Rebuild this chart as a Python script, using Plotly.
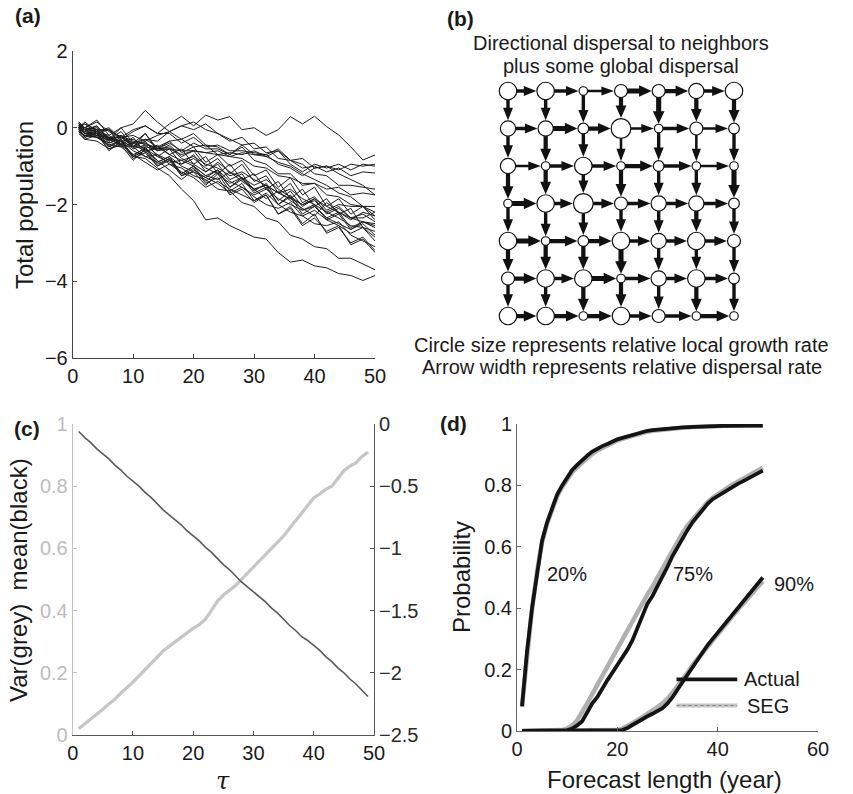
import plotly.graph_objects as go

W, H = 853, 794
FONT = "Liberation Sans, Arial, Helvetica, sans-serif"

# ---------------- Panel (a): total population trajectories ----------------
A_X = [1, 2, 4, 6, 8, 10, 12, 14, 16, 18, 20, 22, 24, 26, 28, 30, 32, 34, 36, 38, 40, 42, 44, 46, 48, 50]
A_LINES = [
    [0.0, 0.15, -0.1, 0.0, -0.3, -0.1, 0.05, -0.15, 0.1, 0.3, 0.05, 0.33, 0.2, 0.29, -0.05, 0.0, -0.2, -0.05, 0.29, 0.1, 0.3, 0.03, -0.19, -0.5, -0.84, -0.71],
    [0.1, 0.0, -0.05, -0.3, 0.0, 0.1, 0.45, 0.15, -0.1, -0.3, -0.15, -0.45, -0.5, -0.7, -0.45, -0.7, -0.75, -0.6, -0.95, -1.15, -0.95, -1.05, -0.95, -1.1, -0.95, -1.0],
    [0.0, -0.15, -0.1, -0.4, -0.25, -0.5, -0.3, -0.35, -0.1, 0.05, 0.15, -0.05, -0.15, -0.35, -0.25, -0.55, -0.5, -0.8, -0.85, -1.05, -1.0, -1.15, -1.05, -1.25, -1.15, -1.18],
    [-0.1, -0.2, -0.25, -0.45, -0.5, -0.75, -0.8, -1.05, -1.25, -1.6, -1.9, -2.4, -2.35, -2.55, -2.7, -2.85, -2.9, -3.25, -3.5, -3.45, -3.6, -3.65, -3.8, -3.85, -3.98, -3.85],
    [0.0, -0.05, -0.25, -0.3, -0.45, -0.5, -0.75, -0.7, -0.95, -1.05, -1.25, -1.35, -1.6, -1.65, -1.95, -2.05, -2.35, -2.45, -2.8, -2.9, -3.1, -3.15, -3.4, -3.4, -3.55, -3.7],
    [0.1, -0.05, -0.2, -0.25, -0.5, -0.4, -0.55, -0.75, -0.9, -0.85, -1.0, -1.25, -1.35, -1.15, -1.4, -1.6, -1.85, -1.65, -1.9, -2.1, -2.3, -1.95, -2.2, -2.35, -2.35, -2.2],
    [-0.1, -0.3, -0.2, -0.55, -0.45, -0.85, -0.55, -0.95, -0.8, -1.2, -1.0, -1.25, -1.1, -1.55, -1.35, -1.6, -1.5, -2.0, -1.75, -2.15, -2.0, -2.4, -2.25, -2.65, -2.45, -2.5],
    [0.0, -0.25, -0.1, -0.2, -0.45, -0.7, -0.55, -0.85, -1.1, -1.35, -1.1, -1.3, -1.45, -1.7, -1.55, -1.8, -2.0, -2.1, -1.95, -2.3, -2.5, -2.55, -2.45, -2.8, -2.95, -3.1],
    [0.15, -0.05, 0.05, -0.35, -0.2, -0.5, -0.35, -0.75, -0.55, -0.95, -0.7, -1.15, -0.95, -1.35, -1.2, -1.65, -1.45, -1.9, -1.65, -2.05, -1.85, -2.25, -2.1, -2.35, -2.25, -2.45],
    [-0.05, -0.2, -0.15, -0.6, -0.35, -0.8, -0.65, -1.0, -0.85, -1.25, -1.15, -1.5, -1.2, -1.65, -1.45, -1.9, -1.75, -2.25, -2.05, -2.5, -2.25, -2.75, -2.6, -3.0, -2.85, -3.2],
    [0.05, -0.15, -0.2, -0.3, -0.2, -0.45, -0.6, -0.55, -0.5, -0.8, -0.95, -1.15, -0.9, -1.15, -1.3, -1.5, -1.35, -1.6, -1.8, -2.0, -1.85, -2.05, -2.2, -2.4, -2.2, -2.3],
    [0.0, 0.1, -0.15, -0.05, -0.45, -0.25, -0.65, -0.45, -0.7, -0.55, -0.95, -0.75, -1.2, -0.95, -1.35, -1.2, -1.6, -1.4, -1.85, -1.6, -2.05, -1.85, -2.25, -2.1, -2.6, -2.7],
    [-0.15, -0.3, -0.35, -0.55, -0.4, -0.7, -0.9, -1.1, -0.95, -1.15, -1.3, -1.55, -1.4, -1.6, -1.75, -1.9, -1.7, -2.0, -2.2, -2.3, -2.15, -2.4, -2.55, -2.75, -2.6, -2.85],
    [0.05, -0.1, 0.05, -0.3, -0.1, -0.5, -0.15, -0.6, -0.45, -0.75, -0.6, -1.0, -0.8, -1.2, -0.95, -1.4, -1.25, -1.7, -1.45, -1.95, -1.8, -2.15, -2.0, -2.05, -2.05, -2.05],
    [0.1, -0.05, 0.0, -0.25, -0.25, -0.4, -0.4, -0.6, -0.55, -0.7, -0.6, -0.65, -0.7, -0.75, -0.8, -1.0, -1.05, -1.25, -1.3, -1.45, -1.45, -1.6, -1.55, -1.75, -1.7, -1.75],
    [0.0, -0.15, -0.15, -0.35, -0.2, -0.35, -0.4, -0.55, -0.4, -0.6, -0.6, -0.65, -0.6, -0.75, -0.65, -0.7, -0.7, -0.55, -0.85, -0.95, -1.2, -1.25, -1.5, -1.5, -1.55, -1.6],
    [0.05, 0.1, -0.05, -0.05, -0.25, -0.05, 0.05, -0.15, -0.15, -0.4, -0.25, -0.5, -0.45, -0.6, -0.6, -0.65, -0.7, -0.95, -1.05, -1.25, -1.05, -1.0, -1.1, -0.95, -1.0, -0.95],
    [-0.05, -0.25, -0.15, -0.5, -0.3, -0.75, -0.6, -1.0, -0.8, -1.25, -1.05, -1.45, -1.3, -1.75, -1.6, -1.95, -1.75, -2.25, -2.1, -2.55, -2.35, -2.7, -2.55, -3.05, -2.9, -3.25],
    [0.1, 0.0, 0.15, -0.1, -0.25, -0.4, -0.3, -0.5, -0.7, -0.85, -0.75, -0.95, -1.05, -1.25, -1.15, -1.35, -1.5, -1.7, -1.6, -1.85, -2.0, -2.2, -2.05, -2.35, -2.45, -2.55],
    [0.0, -0.15, -0.05, -0.5, -0.35, -0.75, -0.5, -0.9, -0.75, -1.2, -1.0, -1.4, -1.15, -1.55, -1.3, -1.7, -1.55, -2.0, -1.8, -2.25, -2.05, -2.35, -2.2, -2.6, -2.45, -2.6],
    [-0.1, -0.2, -0.25, -0.4, -0.3, -0.55, -0.45, -0.7, -0.85, -0.95, -0.8, -1.05, -1.2, -1.45, -1.3, -1.6, -1.5, -1.7, -1.85, -2.0, -1.9, -2.2, -2.35, -2.55, -2.6, -2.95],
    [0.05, -0.05, -0.1, -0.3, -0.35, -0.5, -0.5, -0.55, -0.55, -0.6, -0.4, -0.55, -0.55, -0.7, -0.5, -0.85, -0.95, -1.2, -1.2, -1.5, -1.45, -1.75, -1.8, -2.0, -2.05, -2.2],
    [0.0, -0.15, -0.25, -0.45, -0.35, -0.6, -0.75, -0.9, -0.75, -1.0, -1.15, -1.3, -1.1, -1.4, -1.55, -1.75, -1.6, -1.85, -2.0, -2.15, -2.05, -2.35, -2.5, -2.65, -2.5, -2.8],
    [0.15, 0.0, 0.2, -0.2, 0.0, -0.4, -0.15, -0.55, -0.35, -0.65, -0.5, -0.9, -0.7, -1.0, -0.85, -1.25, -1.1, -1.55, -1.3, -1.75, -1.55, -2.05, -1.85, -2.25, -2.05, -2.4],
    [0.05, 0.0, -0.1, -0.05, -0.25, -0.2, -0.35, -0.2, -0.1, 0.05, -0.05, 0.1, -0.15, -0.3, -0.45, -0.4, -0.65, -0.6, -0.85, -0.8, -1.05, -1.0, -1.2, -1.35, -1.5, -1.75],
    [-0.05, -0.1, -0.15, -0.25, -0.35, -0.3, -0.45, -0.5, -0.35, -0.3, -0.5, -0.45, -0.7, -0.65, -0.7, -0.6, -0.75, -0.9, -1.0, -1.2, -1.35, -1.5, -1.7, -1.8, -2.05, -2.3],
]
A_XTICKS = [0, 10, 20, 30, 40, 50]
A_YTICKS = [-6, -4, -2, 0, 2]

# ---------------- Panel (b): lattice ----------------
B_SIZE = [  # relative local growth rate (circle size class), rows top->bottom
    [3, 3, 1, 2, 2, 2.5, 3],
    [2.5, 2.5, 1.5, 3.5, 1, 2, 1.5],
    [2.5, 1, 3, 1, 1.5, 1, 1],
    [1, 3, 3.5, 2, 2.5, 2.5, 1.5],
    [3, 1, 1.5, 3, 2.5, 3, 2],
    [2, 3, 3, 1, 2.5, 3, 1.5],
    [3, 3, 1, 3, 2, 1, 1],
]
B_HW = [  # horizontal dispersal rates (arrow width class)
    [2, 2, 1.5, 3, 2.5, 2],
    [2, 3, 2.5, 1.5, 2, 1.5],
    [1.5, 2, 2, 2.5, 2, 1.5],
    [3, 2, 2, 2, 2, 2],
    [3, 2.5, 2.5, 2, 2, 2],
    [2.5, 2, 3, 2, 2, 2],
    [2.5, 2.5, 2.5, 2, 2, 2.5],
]
B_VW = [  # vertical dispersal rates (arrow width class)
    [2, 2, 2, 2.5, 3, 2.5, 2.5],
    [2, 2.5, 2, 1.5, 2, 1.5, 2],
    [2.5, 2.5, 2, 2.5, 2, 2, 3],
    [2, 2, 2, 2, 2, 2.5, 2],
    [2.5, 2.5, 2.5, 3, 2, 2, 2],
    [2, 2, 2.5, 2.5, 2, 2.5, 2],
]

# ---------------- Panel (c): variance and mean ----------------
C_T = list(range(1, 50))
C_VAR = [0.02, 0.035, 0.05, 0.065, 0.083, 0.1, 0.115, 0.135, 0.152, 0.17,
         0.19, 0.21, 0.23, 0.252, 0.27, 0.285, 0.3, 0.315, 0.33, 0.343,
         0.355, 0.372, 0.4, 0.43, 0.45, 0.465, 0.48, 0.5, 0.52, 0.54,
         0.56, 0.578, 0.6, 0.62, 0.64, 0.665, 0.69, 0.715, 0.74, 0.762,
         0.775, 0.79, 0.8, 0.825, 0.85, 0.865, 0.875, 0.895, 0.91]
C_MEAN = [-0.06, -0.11, -0.15, -0.2, -0.24, -0.28, -0.33, -0.37, -0.42, -0.46,
          -0.5, -0.55, -0.59, -0.64, -0.69, -0.73, -0.77, -0.81, -0.86, -0.9,
          -0.94, -0.99, -1.03, -1.08, -1.13, -1.17, -1.22, -1.27, -1.31, -1.35,
          -1.39, -1.43, -1.48, -1.52, -1.57, -1.62, -1.66, -1.71, -1.74, -1.78,
          -1.82, -1.87, -1.91, -1.96, -2.0, -2.05, -2.09, -2.14, -2.19]

# ---------------- Panel (d): forecast probability ----------------
D_X = list(range(1, 50))
D_ACT20 = [0.08, 0.26, 0.4, 0.52, 0.62, 0.68, 0.73, 0.77, 0.8, 0.825,
           0.85, 0.867, 0.883, 0.897, 0.91, 0.92, 0.928, 0.935, 0.943, 0.95,
           0.955, 0.96, 0.965, 0.97, 0.974, 0.978, 0.98, 0.982, 0.984, 0.986,
           0.987, 0.988, 0.989, 0.99, 0.991, 0.992, 0.992, 0.993, 0.993, 0.994,
           0.994, 0.994, 0.995, 0.995, 0.995, 0.995, 0.995, 0.995, 0.995]
D_SEG20 = [0.08, 0.26, 0.4, 0.52, 0.615, 0.675, 0.725, 0.765, 0.795, 0.82,
           0.843, 0.86, 0.876, 0.89, 0.903, 0.914, 0.923, 0.931, 0.939, 0.946,
           0.952, 0.957, 0.962, 0.967, 0.971, 0.975, 0.978, 0.98, 0.982, 0.984,
           0.986, 0.987, 0.988, 0.989, 0.99, 0.991, 0.991, 0.992, 0.993, 0.993,
           0.994, 0.994, 0.994, 0.995, 0.995, 0.995, 0.995, 0.995, 0.995]
D_ACT75 = [0, 0, 0, 0, 0, 0, 0, 0, 0, 0.002,
           0.008, 0.018, 0.032, 0.06, 0.09, 0.11, 0.14, 0.165, 0.19, 0.215,
           0.235, 0.265, 0.295, 0.335, 0.38, 0.415, 0.44, 0.47, 0.5, 0.535,
           0.57, 0.6, 0.63, 0.655, 0.68, 0.7, 0.72, 0.74, 0.755, 0.765,
           0.775, 0.787, 0.797, 0.805, 0.813, 0.822, 0.83, 0.84, 0.848]
D_SEG75 = [0, 0, 0, 0, 0, 0, 0, 0, 0.003, 0.008,
           0.018, 0.035, 0.06, 0.09, 0.12, 0.15, 0.18, 0.21, 0.24, 0.27,
           0.3, 0.33, 0.36, 0.39, 0.42, 0.445, 0.47, 0.5, 0.53, 0.56,
           0.59, 0.62, 0.645, 0.67, 0.69, 0.71, 0.73, 0.745, 0.76, 0.772,
           0.783, 0.793, 0.803, 0.812, 0.82, 0.83, 0.84, 0.85, 0.858]
D_ACT90 = [0, 0, 0, 0, 0, 0, 0, 0, 0, 0,
           0, 0, 0, 0, 0, 0, 0, 0, 0, 0,
           0.003, 0.01, 0.02, 0.03, 0.04, 0.048, 0.056, 0.065, 0.074, 0.09,
           0.11, 0.135, 0.16, 0.185, 0.21, 0.23, 0.255, 0.28, 0.3, 0.32,
           0.34, 0.36, 0.38, 0.4, 0.42, 0.44, 0.46, 0.478, 0.5]
D_SEG90 = [0, 0, 0, 0, 0, 0, 0, 0, 0, 0,
           0, 0, 0, 0, 0, 0, 0, 0, 0, 0.003,
           0.008, 0.015, 0.025, 0.035, 0.045, 0.055, 0.066, 0.078, 0.09, 0.105,
           0.125, 0.145, 0.17, 0.19, 0.215, 0.235, 0.258, 0.28, 0.3, 0.32,
           0.34, 0.358, 0.376, 0.395, 0.413, 0.432, 0.45, 0.468, 0.488]
D_LABELS = ["20%", "75%", "90%"]
D_XTICKS = [0, 20, 40, 60]
D_YTICKS = [0, 0.2, 0.4, 0.6, 0.8, 1]


def px(x):
    return x / W


def py(y):
    return 1 - y / H


fig = go.Figure()

# --- panel a traces
for ys in A_LINES:
    fig.add_trace(go.Scatter(x=A_X, y=ys, mode="lines", xaxis="x", yaxis="y",
                             line=dict(color="#1e1e1e", width=1), showlegend=False, hoverinfo="skip"))

# --- panel b: arrows then circles (shapes, in grid-unit coordinates)
SX, SY = 37.67, 37.5  # px per grid unit
shapes = []


def diam(s):
    return 4 + 4.5 * s


def arrow_path(x0, y0, x1, y1, wclass, rtarget_px):
    w = 1.7 * wclass
    headlen = 12.5
    hh = w / 2 + 3.3
    if y0 == y1:  # horizontal
        tip = x1 - (rtarget_px + 0.6) / SX
        base = tip - headlen / SX
        h = w / 2 / SY
        Hh = hh / SY
        pts = [(x0, y0 - h), (base, y0 - h), (base, y0 - Hh), (tip, y0), (base, y0 + Hh), (base, y0 + h), (x0, y0 + h)]
    else:  # vertical (downwards in reversed axis)
        tip = y1 - (rtarget_px + 0.6) / SY
        base = tip - headlen / SY
        h = w / 2 / SX
        Hh = hh / SX
        pts = [(x0 - h, y0), (x0 - h, base), (x0 - Hh, base), (x0, tip), (x0 + Hh, base), (x0 + h, base), (x0 + h, y0)]
    return "M " + " L ".join(f"{a:.4f},{b:.4f}" for a, b in pts) + " Z"


for r in range(7):
    for c in range(6):
        shapes.append(dict(type="path", xref="x2", yref="y2", layer="above",
                           path=arrow_path(c, r, c + 1, r, B_HW[r][c], diam(B_SIZE[r][c + 1]) / 2),
                           fillcolor="#111111", line=dict(width=0)))
for r in range(6):
    for c in range(7):
        shapes.append(dict(type="path", xref="x2", yref="y2", layer="above",
                           path=arrow_path(c, r, c, r + 1, B_VW[r][c], diam(B_SIZE[r + 1][c]) / 2),
                           fillcolor="#111111", line=dict(width=0)))
for r in range(7):
    for c in range(7):
        rad = diam(B_SIZE[r][c]) / 2
        shapes.append(dict(type="circle", xref="x2", yref="y2", layer="above",
                           x0=c - rad / SX, x1=c + rad / SX, y0=r - rad / SY, y1=r + rad / SY,
                           fillcolor="white", line=dict(color="#111111", width=1.2)))

# --- panel c
fig.add_trace(go.Scatter(x=C_T, y=C_VAR, mode="lines", xaxis="x3", yaxis="y3",
                         line=dict(color="#c6c6c6", width=3.2), showlegend=False, hoverinfo="skip"))
fig.add_trace(go.Scatter(x=C_T, y=C_MEAN, mode="lines", xaxis="x3", yaxis="y4",
                         line=dict(color="#5a5a5a", width=1.6), showlegend=False, hoverinfo="skip"))

# --- panel d
SEG_STYLE = dict(color="#b0b0b0", width=4.5)
ACT_STYLE = dict(color="#141414", width=3.8)
for seg in (D_SEG20, D_SEG75, D_SEG90):
    fig.add_trace(go.Scatter(x=D_X, y=seg, mode="lines", xaxis="x4", yaxis="y5",
                             line=SEG_STYLE, showlegend=False, hoverinfo="skip"))
for act in (D_ACT20, D_ACT75, D_ACT90):
    fig.add_trace(go.Scatter(x=D_X, y=act, mode="lines", xaxis="x4", yaxis="y5",
                             line=ACT_STYLE, showlegend=False, hoverinfo="skip"))

# legend samples for panel d
shapes.append(dict(type="line", xref="x4", yref="y5", x0=31.8, x1=43.9, y0=0.168, y1=0.168,
                   line=dict(color="#141414", width=3.8)))
shapes.append(dict(type="line", xref="x4", yref="y5", x0=31.8, x1=43.9, y0=0.083, y1=0.083,
                   line=dict(color="#c4c4c4", width=4)))
shapes.append(dict(type="line", xref="x4", yref="y5", x0=31.8, x1=43.9, y0=0.083, y1=0.083,
                   line=dict(color="#8a8a8a", width=1.2, dash="dot")))

annotations = []


def ann(text, x, y, size, **kw):
    d = dict(text=text, x=px(x), y=py(y), xref="paper", yref="paper", showarrow=False,
             xanchor="center", yanchor="middle", font=dict(family=FONT, size=size, color="#1a1a1a"))
    d.update(kw)
    annotations.append(d)


ann("<b>(a)</b>", 28, 16, 21)
ann("<b>(b)</b>", 460, 18, 21)
ann("<b>(c)</b>", 27, 428, 21)
ann("<b>(d)</b>", 453, 423, 21)
ann("Total population", 25, 205, 24, textangle=-90)
ann("Directional dispersal to neighbors", 621, 43, 20)
ann("plus some global dispersal", 621, 66, 20)
ann("Circle size represents relative local growth rate", 621, 345, 20)
ann("Arrow width represents relative dispersal rate", 622, 367, 20)
ann("Var(grey)\u00a0\u00a0mean(black)", 18, 580, 24, textangle=-90)
ann("<i>τ</i>", 223, 781, 26, font=dict(family="DejaVu Serif, Liberation Serif, serif", size=24, color="#1a1a1a"))
ann("Probability", 461, 577, 24, textangle=-90)
ann("Forecast length (year)", 664, 779, 24)

for lab, xx, yy in zip(D_LABELS, [10.0, 35.1, 55.2], [0.512, 0.512, 0.48]):
    annotations.append(dict(text=lab, x=xx, y=yy, xref="x4", yref="y5", showarrow=False,
                            xanchor="center", yanchor="middle", font=dict(family=FONT, size=20, color="#1a1a1a")))
annotations.append(dict(text="Actual", x=44.9, y=0.168, xref="x4", yref="y5", showarrow=False,
                        xanchor="left", yanchor="middle", font=dict(family=FONT, size=20, color="#1a1a1a")))
annotations.append(dict(text="SEG", x=45.4, y=0.083, xref="x4", yref="y5", showarrow=False,
                        xanchor="left", yanchor="middle", font=dict(family=FONT, size=20, color="#1a1a1a")))


def axis(domain, rng, tickvals, anchor, linecolor="#444", fontcolor="#1a1a1a", **kw):
    d = dict(domain=domain, range=rng, tickmode="array", tickvals=tickvals, anchor=anchor,
             showline=True, linecolor=linecolor, linewidth=1, ticks="inside", ticklen=4,
             tickcolor=linecolor, showgrid=False, zeroline=False, mirror=False, automargin=False,
             tickfont=dict(family=FONT, size=20, color=fontcolor), fixedrange=True)
    d.update(kw)
    return d


layout = dict(
    template="none",
    width=W, height=H, autosize=False,
    margin=dict(l=0, r=0, t=0, b=0, pad=0, autoexpand=False),
    paper_bgcolor="white", plot_bgcolor="rgba(0,0,0,0)",
    showlegend=False,
    font=dict(family=FONT),
    shapes=shapes, annotations=annotations,
    xaxis=axis([px(72.7), px(375)], [0, 50], A_XTICKS, "y"),
    yaxis=axis([py(358), py(51)], [-6, 2], A_YTICKS, "x"),
    xaxis2=dict(domain=[px(495), px(747)], range=[-0.345, 6.345], visible=False, anchor="y2", fixedrange=True),
    yaxis2=dict(domain=[py(330), py(78)], range=[6.373, -0.347], visible=False, anchor="x2", fixedrange=True),
    xaxis3=axis([px(72.7), px(374)], [0, 50], [0, 10, 20, 30, 40, 50], "y3", linecolor="#555"),
    yaxis3=axis([py(735), py(424)], [0, 1], [0, 0.2, 0.4, 0.6, 0.8, 1], "x3",
                linecolor="#c2c2c2", fontcolor="#bdbdbd"),
    yaxis4=axis([py(735), py(424)], [-2.5, 0], [-2.5, -2, -1.5, -1, -0.5, 0], "x3",
                linecolor="#555", fontcolor="#2a2a2a", overlaying="y3", side="right"),
    xaxis4=axis([px(517), px(818)], [0, 60], D_XTICKS, "y5", linecolor="#666"),
    yaxis5=axis([py(731), py(424)], [0, 1], D_YTICKS, "x4", linecolor="#666"),
)
fig.update_layout(**layout)

fig.write_html("out.html",
               post_script="document.documentElement.style.margin='0';document.body.style.margin='0';"
                           "document.body.style.overflow='hidden';")
